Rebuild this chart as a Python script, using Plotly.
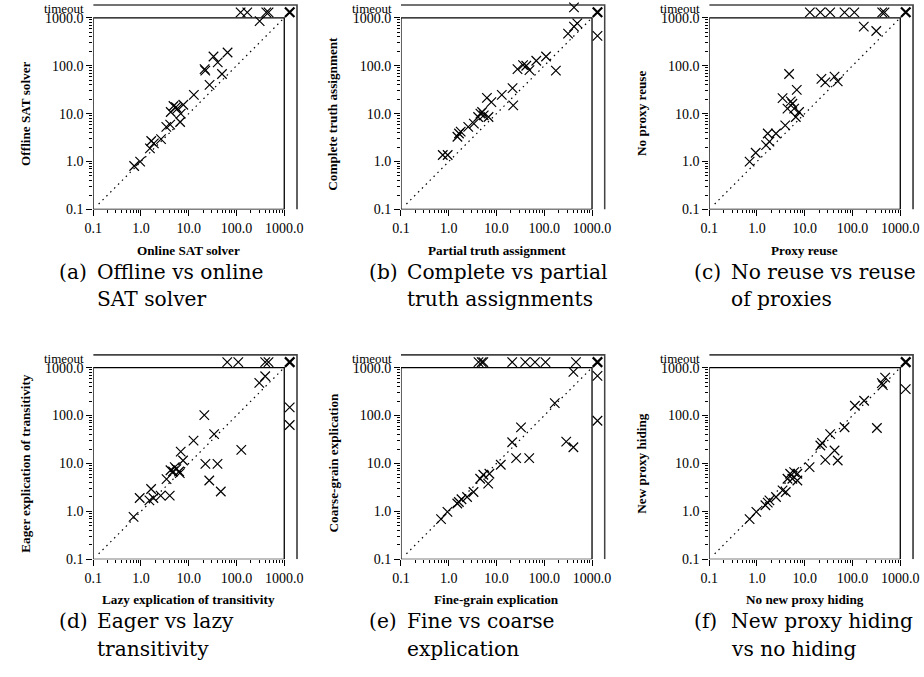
import math
import plotly.graph_objects as go

TO = 1300  # value used for runs that timed out

# ---------------- data ----------------
A_x = [0.72, 0.96, 1.54, 1.64, 1.86, 2.63, 3.39, 4.09, 4.2, 4.8, 5.4, 5.8, 6.6, 6.8, 7.7, 12.8, 21.5, 22.2,
       27.3, 33, 40.5, 49.7, 65, 305, 122, 168, 420, 469, TO]
A_y = [0.81, 1.0, 1.89, 2.68, 2.39, 2.94, 5.3, 5.9, 10.8, 14.4, 13.7, 12.7, 6.7, 10, 15.3, 24.7, 85, 79,
       39.8, 156, 117, 67, 189, 853, TO, TO, TO, TO, TO]

B_x = [0.75, 0.95, 1.52, 1.64, 1.78, 2.56, 3.36, 4.12, 4.6, 5.0, 5.4, 6.3, 6.8, 7.8, 12.9, 21.7, 22.4, 27.5,
       36, 42, 49, 68, 109, 175, 315, 419, 491, 419, TO, TO]
B_y = [1.37, 1.37, 3.29, 3.86, 4.2, 5.3, 6.2, 8.5, 10, 10.8, 9.2, 21.4, 8.5, 17.4, 24.7, 34, 14.9, 85,
       103, 100, 81, 127, 156, 79, 467, 652, 764, 1650, 418, TO]

C_x = [0.70, 0.94, 1.55, 1.68, 1.82, 2.5, 3.43, 3.9, 4.35, 4.7, 5.1, 5.5, 6.0, 6.5, 6.8, 7.6, 22.3, 26.9,
       42, 49, 172, 314, 12.8, 21.2, 34, 68, 109, 418, 467, TO]
C_y = [1.0, 1.53, 2.2, 3.86, 2.6, 3.86, 21, 5.7, 12.7, 67, 18, 16.1, 12.7, 8.5, 31.4, 10.8, 53, 45,
       59, 47, 652, 530, TO, TO, TO, TO, TO, TO, TO, TO]

D_x = [0.70, 0.94, 1.5, 1.63, 1.82, 2.58, 3.43, 4.15, 4.0, 4.7, 5.1, 5.5, 6.3, 6.8, 6.5, 7.6, 12.6, 21.2,
       22.3, 26.9, 34, 40, 46.9, 126, 300, 399, 64, 109, 399, 468, TO, TO, TO]
D_y = [0.77, 1.9, 1.7, 2.93, 1.9, 2.13, 4.7, 7.2, 2.13, 6.8, 8.4, 7.6, 6.8, 17.7, 6.3, 11.5, 30, 102,
       9.8, 4.4, 41, 9.8, 2.6, 19.2, 481, 661, TO, TO, TO, TO, 148, 63.5, TO]

E_x = [0.69, 0.94, 1.51, 1.63, 1.85, 2.42, 3.3, 4.55, 5.3, 6.7, 7.1, 12.3, 21.3, 25.8, 32.6, 48.4, 166, 288,
       407, 407, 4.2, 4.9, 5.3, 21.3, 40, 64, 106, 461, TO, TO, TO]
E_y = [0.69, 0.98, 1.46, 1.57, 1.79, 2.0, 2.54, 4.8, 5.8, 3.8, 6.1, 9.4, 27.7, 12.9, 56.8, 12.9, 182, 28.6,
       21.8, 813, TO, TO, TO, TO, TO, TO, TO, TO, 671, 78, TO]

F_x = [0.70, 0.97, 1.5, 1.68, 1.82, 2.5, 3.43, 4.0, 4.35, 4.95, 5.5, 6.0, 7.0, 7.0, 12.6, 21.2, 23, 26.9,
       34, 42, 49, 68, 112, 175, 324, 411, 431, 482, TO, TO]
F_y = [0.69, 0.98, 1.34, 1.52, 1.7, 2.0, 2.75, 2.54, 4.8, 6.1, 4.8, 6.6, 6.1, 4.4, 8.4, 23.7, 26.8, 11.9,
       41, 18.6, 11.5, 57, 160, 203, 55, 473, 430, 620, 355, TO]

X_TITLES = ["Online SAT solver", "Partial truth assignment", "Proxy reuse",
            "Lazy explication of transitivity", "Fine-grain explication", "No new proxy hiding"]
Y_TITLES = ["Offline SAT solver", "Complete truth assignment", "No proxy reuse",
            "Eager explication of transitivity", "Coarse-grain explication", "New proxy hiding"]
CAP_LABELS = ["(a)", "(b)", "(c)", "(d)", "(e)", "(f)"]
CAP_LINE1 = ["Offline vs online", "Complete vs partial", "No reuse vs reuse",
             "Eager vs lazy", "Fine vs coarse", "New proxy hiding"]
CAP_LINE2 = ["SAT solver", "truth assignments", "of proxies",
             "transitivity", "explication", "vs no hiding"]

TICK_VALS = [0.1, 1, 10, 100, 1000]
TICK_TEXT = ["0.1", "1.0", "10.0", "100.0", "1000.0"]

# ---------------- layout geometry (pixels) ----------------
W, H = 924, 677
PX_DEC = 48.5
R_END = 3.285
DOM = (R_END + 1) * PX_DEC
COL_L = [85.5, 398, 711]
ROW_B = [212, 566]
OUTER = 10 ** 3.268
CAP_LBL_X = [49, 364, 693]
CAP_BODY_X = [87, 402, 731]
CAP_Y1 = [275, 628]
CAP_Y2 = [303, 657]
SERIF = "Liberation Serif"
CAP_SERIF = "DejaVu Serif"

panels = [(A_x, A_y), (B_x, B_y), (C_x, C_y), (D_x, D_y), (E_x, E_y), (F_x, F_y)]

minor_vals = [m * 10 ** e for e in range(-1, 3) for m in range(2, 10)]

fig = go.Figure()
annotations = []
layout = {}

for i, (px_, py_) in enumerate(panels):
    r, c = divmod(i, 3)
    n = "" if i == 0 else str(i + 1)
    xa, ya = "x" + n, "y" + n
    left = COL_L[c]
    bottom = ROW_B[r]
    axis_common = dict(
        type="log", range=[-1, R_END], showgrid=False, zeroline=False, showline=False,
        ticks="outside", ticklen=6, tickwidth=1, tickcolor="black",
        tickmode="array", tickvals=TICK_VALS, ticktext=TICK_TEXT,
        tickfont=dict(family=SERIF, size=14, color="black"),
        minor=dict(tickmode="array", tickvals=minor_vals, ticks="outside", ticklen=3,
                   tickwidth=1, tickcolor="black"),
        fixedrange=True,
    )
    layout["xaxis" + n] = dict(axis_common, domain=[left / W, (left + DOM) / W], anchor=ya)
    layout["yaxis" + n] = dict(axis_common, domain=[1 - bottom / H, 1 - (bottom - DOM) / H], anchor=xa)

    # inner box (0.1 .. 1000)
    fig.add_trace(go.Scatter(x=[1000, 0.1, 0.1, 1000, 1000], y=[0.1, 0.1, 1000, 1000, 0.1],
                             mode="lines", line=dict(color="black", width=1.3),
                             xaxis=xa, yaxis=ya, hoverinfo="skip", showlegend=False))
    # outer timeout frame
    fig.add_trace(go.Scatter(x=[0.1, OUTER, OUTER], y=[OUTER, OUTER, 0.1],
                             mode="lines", line=dict(color="#444444", width=1.8),
                             xaxis=xa, yaxis=ya, hoverinfo="skip", showlegend=False))
    # diagonal
    fig.add_trace(go.Scatter(x=[0.13, 1000], y=[0.13, 1000], mode="lines",
                             line=dict(color="black", width=1.2, dash="1.5px,4px"),
                             xaxis=xa, yaxis=ya, hoverinfo="skip", showlegend=False))
    # points
    nx = [a for a, b in zip(px_, py_) if not (a == TO and b == TO)]
    ny = [b for a, b in zip(px_, py_) if not (a == TO and b == TO)]
    bx = [a for a, b in zip(px_, py_) if a == TO and b == TO]
    by = [b for a, b in zip(px_, py_) if a == TO and b == TO]
    fig.add_trace(go.Scatter(x=nx, y=ny, mode="markers",
                             marker=dict(symbol="x-thin", size=9.5, color="black",
                                         line=dict(color="black", width=1.2)),
                             xaxis=xa, yaxis=ya, showlegend=False, cliponaxis=False))
    fig.add_trace(go.Scatter(x=bx, y=by, mode="markers",
                             marker=dict(symbol="x-thin", size=9.5, color="black",
                                         line=dict(color="black", width=2.2)),
                             xaxis=xa, yaxis=ya, showlegend=False, cliponaxis=False))

    # "timeout" label on the y axis
    annotations.append(dict(text="timeout", xref="paper", x=(left - 7) / W,
                            yref=ya, y=math.log10(TO) + 0.08, xanchor="right", yanchor="middle",
                            showarrow=False, font=dict(family=SERIF, size=13, color="black")))
    # axis titles
    inner_mid = left + 2 * PX_DEC
    annotations.append(dict(text="<b>" + X_TITLES[i] + "</b>", xref="paper", yref="paper",
                            x=inner_mid / W, y=1 - (bottom + 41) / H,
                            xanchor="center", yanchor="middle", showarrow=False,
                            font=dict(family=SERIF, size=13.2, color="black")))
    annotations.append(dict(text="<b>" + Y_TITLES[i] + "</b>", xref="paper", yref="paper",
                            x=(left - 69) / W, y=1 - (bottom - 2 * PX_DEC) / H, textangle=-90,
                            xanchor="center", yanchor="middle", showarrow=False,
                            font=dict(family=SERIF, size=13.2, color="black")))
    # captions
    capfont = dict(family=CAP_SERIF, size=20.2, color="black")
    annotations.append(dict(text=CAP_LABELS[i], xref="paper", yref="paper",
                            x=CAP_LBL_X[c] / W, y=1 - CAP_Y1[r] / H, xanchor="left", yanchor="middle",
                            showarrow=False, font=capfont))
    annotations.append(dict(text=CAP_LINE1[i], xref="paper", yref="paper",
                            x=CAP_BODY_X[c] / W, y=1 - CAP_Y1[r] / H, xanchor="left", yanchor="middle",
                            showarrow=False, font=capfont))
    annotations.append(dict(text=CAP_LINE2[i], xref="paper", yref="paper",
                            x=CAP_BODY_X[c] / W, y=1 - CAP_Y2[r] / H, xanchor="left", yanchor="middle",
                            showarrow=False, font=capfont))

fig.update_layout(
    width=W, height=H, margin=dict(l=0, r=0, t=0, b=0),
    paper_bgcolor="white", plot_bgcolor="white",
    showlegend=False, annotations=annotations, **layout,
)

fig.write_html("out.html", config={"displayModeBar": False})

# remove the browser's default page margin so the figure sits at the window origin
with open("out.html", encoding="utf-8") as fh:
    html = fh.read()
html = html.replace("<body>", '<body style="margin:0;padding:0;overflow:hidden">', 1)
with open("out.html", "w", encoding="utf-8") as fh:
    fh.write(html)
